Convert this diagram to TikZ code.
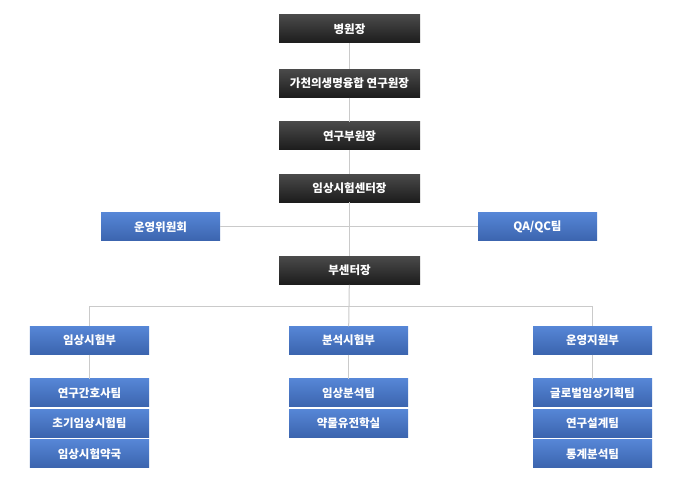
\documentclass[tikz,border=0pt]{standalone}
\usepackage{fontspec}
\newfontfamily\krfont{Noto Sans CJK KR}
\usepackage{xcolor}
\usepackage{tikz}
\usetikzlibrary{positioning}

\definecolor{headtop}{HTML}{4A4A4A}
\definecolor{headbot}{HTML}{1C1C1C}
\definecolor{unittop}{HTML}{5686D6}
\definecolor{unitbot}{HTML}{3B64AE}
\definecolor{linkgray}{HTML}{CACACA}

\begin{document}
\begin{tikzpicture}[
  x=1bp, y=-1bp,
  %% style definitions
  head/.style = {top color=headtop, bottom color=headbot,
                 minimum width=141bp, minimum height=28bp, inner sep=0pt,
                 text=white, font=\krfont\bfseries\fontsize{11.5bp}{13bp}\selectfont},
  unit/.style = {top color=unittop, bottom color=unitbot,
                 minimum width=119bp, minimum height=28bp, inner sep=0pt,
                 text=white, font=\krfont\bfseries\fontsize{11.5bp}{13bp}\selectfont},
  link/.style = {draw=linkgray, line width=1bp},
]
\useasboundingbox (0,0) rectangle (683,483);

%% ── Top chain ────────────────────────────────────────────────────────────────
\node[head] (director) at (349.5,29) {병원장};
\node[head, below=26bp of director]  (institute) {가천의생명융합 연구원장};
\node[head, below=24bp of institute] (deputy)    {연구부원장};
\node[head, below=24bp of deputy]    (center)    {임상시험센터장};

\node[unit] (committee) at (160.5,227) {운영위원회};
\node[unit] (qaqc)      at (537.5,227) {QA/QC팀};

\node[head, below=54bp of center] (vicecenter) {부센터장};

%% ── Departments ──────────────────────────────────────────────────────────────
\node[unit] (clinical) at (89.5,340.5)  {임상시험부};
\node[unit] (analysis) at (348.5,340.5) {분석시험부};
\node[unit] (support)  at (592.5,340.5) {운영지원부};

\node[unit, below=24bp of clinical] (nursing)  {연구간호사팀};
\node[unit, below=2bp of nursing]   (earlyph)  {초기임상시험팀};
\node[unit, below=2bp of earlyph]   (pharmacy) {임상시험약국};

\node[unit, below=24bp of analysis] (bioanal)  {임상분석팀};
\node[unit, below=2bp of bioanal]   (pgx)      {약물유전학실};

\node[unit, below=24bp of support]  (global)   {글로벌임상기획팀};
\node[unit, below=2bp of global]    (design)   {연구설계팀};
\node[unit, below=2bp of design]    (stats)    {통계분석팀};

%% ── Connectors ───────────────────────────────────────────────────────────────
\coordinate (bus) at (0,306);
\draw[link] (director)  -- (institute);
\draw[link] (institute) -- (deputy);
\draw[link] (deputy)    -- (center);
\draw[link] (center)    -- (vicecenter);
\draw[link] (committee) -- (qaqc);
\draw[link] (vicecenter) -- (analysis);
\draw[link] (clinical) |- (support.north |- bus) -- (support);
\draw[link] (clinical) -- (nursing);
\draw[link] (analysis) -- (bioanal);
\draw[link] (support)  -- (global);

\end{tikzpicture}
\end{document}
